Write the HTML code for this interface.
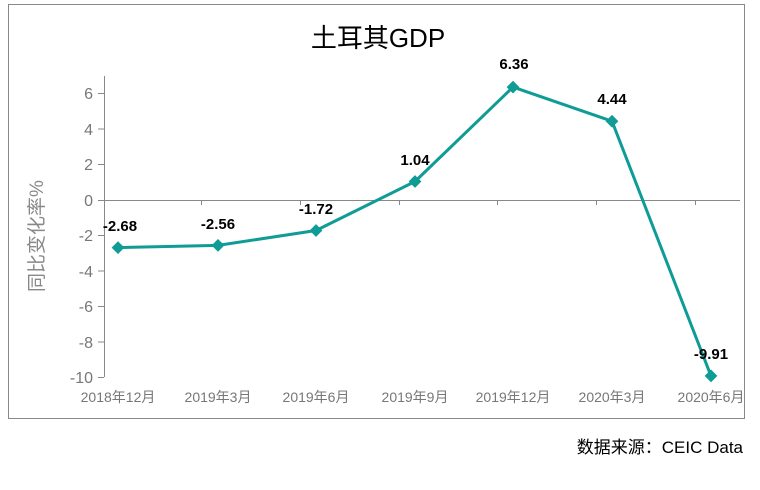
<!DOCTYPE html>
<html><head><meta charset="utf-8"><style>
body{margin:0;background:#fff;}
svg text{font-family:"Liberation Sans","Noto Sans CJK SC",sans-serif;}
</style></head><body>
<svg width="760" height="485" xmlns="http://www.w3.org/2000/svg">
<rect x="8.5" y="4.5" width="736" height="414" fill="#fff" stroke="#888" stroke-width="1"/>
<text x="378" y="47" font-size="26" text-anchor="middle" fill="#000">土耳其GDP</text>
<g stroke="#888" stroke-width="1">
<line x1="104.5" y1="76" x2="104.5" y2="377"/>
<line x1="104" y1="200.5" x2="740" y2="200.5"/>
<line x1="98" y1="93.5" x2="104" y2="93.5"/>
<line x1="98" y1="129" x2="104" y2="129"/>
<line x1="98" y1="164.5" x2="104" y2="164.5"/>
<line x1="98" y1="200.5" x2="104" y2="200.5"/>
<line x1="98" y1="235.5" x2="104" y2="235.5"/>
<line x1="98" y1="271" x2="104" y2="271"/>
<line x1="98" y1="306.5" x2="104" y2="306.5"/>
<line x1="98" y1="342" x2="104" y2="342"/>
<line x1="98" y1="377.5" x2="104" y2="377.5"/>
<line x1="201.5" y1="200" x2="201.5" y2="205"/>
<line x1="300.5" y1="200" x2="300.5" y2="205"/>
<line x1="399.5" y1="200" x2="399.5" y2="205"/>
<line x1="497.5" y1="200" x2="497.5" y2="205"/>
<line x1="596.5" y1="200" x2="596.5" y2="205"/>
<line x1="695.5" y1="200" x2="695.5" y2="205"/>
</g>
<g font-size="16" fill="#777" text-anchor="end">
<text x="93" y="99">6</text><text x="93" y="135">4</text><text x="93" y="170">2</text>
<text x="93" y="206">0</text><text x="93" y="241">-2</text><text x="93" y="277">-4</text>
<text x="93" y="312">-6</text><text x="93" y="348">-8</text><text x="93" y="383">-10</text>
</g>
<text transform="translate(43,236) rotate(-90)" font-size="19" fill="#888" text-anchor="middle">同比变化率%</text>
<g font-size="14" fill="#777" text-anchor="middle">
<text x="118" y="402">2018年12月</text><text x="218" y="402">2019年3月</text>
<text x="316" y="402">2019年6月</text><text x="415" y="402">2019年9月</text>
<text x="513" y="402">2019年12月</text><text x="612" y="402">2020年3月</text>
<text x="711" y="402">2020年6月</text>
</g>
<polyline fill="none" stroke="#0f9b96" stroke-width="3" stroke-linejoin="round"
points="118,247.6 218,245.4 316,230.5 415,181.5 513,87.1 612,121.2 711,375.9"/>
<g fill="#0f9b96">
<rect x="-4.5" y="-4.5" width="9" height="9" transform="translate(118,247.6) rotate(45)"/>
<rect x="-4.5" y="-4.5" width="9" height="9" transform="translate(218,245.4) rotate(45)"/>
<rect x="-4.5" y="-4.5" width="9" height="9" transform="translate(316,230.5) rotate(45)"/>
<rect x="-4.5" y="-4.5" width="9" height="9" transform="translate(415,181.5) rotate(45)"/>
<rect x="-4.5" y="-4.5" width="9" height="9" transform="translate(513,87.1) rotate(45)"/>
<rect x="-4.5" y="-4.5" width="9" height="9" transform="translate(612,121.2) rotate(45)"/>
<rect x="-4.5" y="-4.5" width="9" height="9" transform="translate(711,375.9) rotate(45)"/>
</g>
<g font-size="15" font-weight="bold" fill="#000" text-anchor="middle">
<text x="120" y="231">-2.68</text><text x="218" y="229">-2.56</text>
<text x="316" y="214">-1.72</text><text x="415" y="165">1.04</text>
<text x="514" y="69">6.36</text><text x="612" y="104">4.44</text>
<text x="711" y="359">-9.91</text>
</g>
<text x="743" y="453" font-size="17" fill="#000" text-anchor="end">数据来源：CEIC Data</text>
</svg>
</body></html>
